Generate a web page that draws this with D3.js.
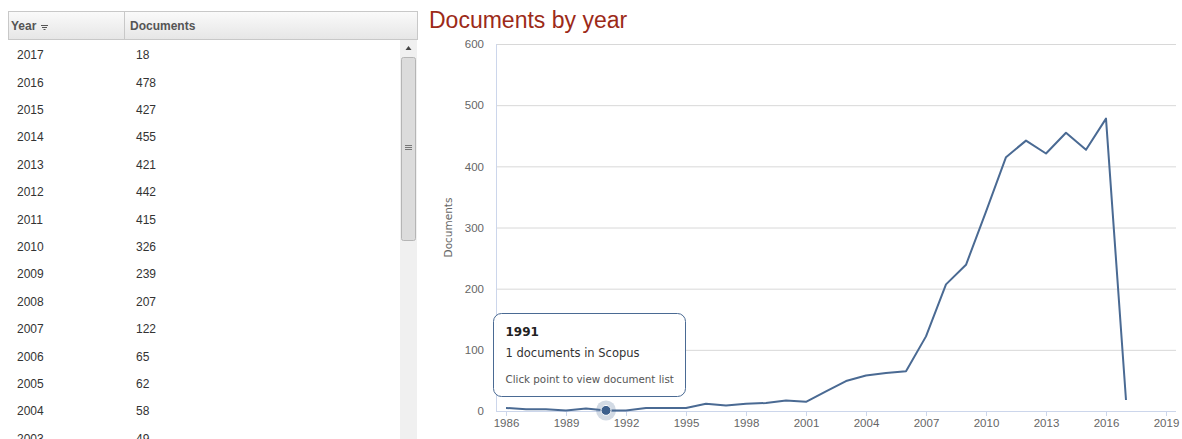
<!DOCTYPE html>
<html>
<head>
<meta charset="utf-8">
<script src="https://cdnjs.cloudflare.com/ajax/libs/d3/7.8.5/d3.min.js"></script>
<style>
  body { margin: 0; background: #fff; }
  svg { display: block; }
</style>
</head>
<body>
<div id="chart"></div>
<script>
var years = [1986, 1987, 1988, 1989, 1990, 1991, 1992, 1993, 1994, 1995, 1996, 1997, 1998, 1999, 2000, 2001,
  2002, 2003, 2004, 2005, 2006, 2007, 2008, 2009, 2010, 2011, 2012, 2013, 2014, 2015, 2016, 2017];
var documents = [5, 3, 3, 1, 4, 1, 1, 5, 5, 5, 12, 9, 12, 13, 17, 15,
  32, 49, 58, 62, 65, 122, 207, 239, 326, 415, 442, 421, 455, 427, 478, 18];
var yTicks = [0, 100, 200, 300, 400, 500, 600];
var xTicks = [1986, 1989, 1992, 1995, 1998, 2001, 2004, 2007, 2010, 2013, 2016, 2019];
var tableHeaders = ["Year", "Documents"];
var hoverYear = 1991;

var width = 1182, height = 439;
var lineColour = "#4a6a93";

var svg = d3.select("#chart").append("svg")
  .attr("width", width)
  .attr("height", height);

// ---------- table on the left ----------
var table = svg.append("g").attr("font-family", "Liberation Sans, Arial, sans-serif");

var grad = svg.append("defs").append("linearGradient")
  .attr("id", "hdr").attr("x1", 0).attr("x2", 0).attr("y1", 0).attr("y2", 1);
grad.append("stop").attr("offset", "0%").attr("stop-color", "#fafafa");
grad.append("stop").attr("offset", "100%").attr("stop-color", "#e6e6e6");

table.append("rect")
  .attr("x", 8.5).attr("y", 11.5).attr("width", 409).attr("height", 28)
  .attr("fill", "url(#hdr)").attr("stroke", "#c8c8c8");
table.append("line")
  .attr("x1", 124.5).attr("x2", 124.5).attr("y1", 12).attr("y2", 40)
  .attr("stroke", "#c8c8c8");

table.selectAll("text.hdr")
  .data(tableHeaders)
  .enter().append("text")
  .attr("class", "hdr")
  .attr("x", function (d, i) { return i == 0 ? 11 : 130; })
  .attr("y", 30)
  .attr("font-size", 12)
  .attr("font-weight", "bold")
  .attr("fill", "#555")
  .text(function (d) { return d; });

// little sort icon next to "Year"
table.append("path")
  .attr("d", "M41,25.5 h7 M42,27.5 h5 M43.5,29.5 h2")
  .attr("stroke", "#555").attr("stroke-width", 1.2);

var rowH = 27.4;
// only the rows that fit in the visible part of the scroll box (2017 down to 2003)
var rows = years.map(function (y, i) { return { year: y, value: documents[i] }; })
  .reverse()
  .filter(function (d) { return d.year >= 2003; });

var row = table.selectAll("g.row")
  .data(rows)
  .enter().append("g")
  .attr("class", "row")
  .attr("transform", function (d, i) { return "translate(0," + (55 + i * rowH) + ")"; });

row.append("text")
  .attr("x", 17).attr("dy", "0.35em")
  .attr("font-size", 12).attr("fill", "#333")
  .text(function (d) { return d.year; });
row.append("text")
  .attr("x", 136).attr("dy", "0.35em")
  .attr("font-size", 12).attr("fill", "#333")
  .text(function (d) { return d.value; });

// scrollbar
table.append("rect")
  .attr("x", 400).attr("y", 40).attr("width", 17).attr("height", 399)
  .attr("fill", "#f0f0f0");
table.append("path")
  .attr("d", "M405.5,50 L408.5,46 L411.5,50 Z")
  .attr("fill", "#444");
table.append("rect")
  .attr("x", 401.5).attr("y", 57.5).attr("width", 14).attr("height", 183).attr("rx", 2)
  .attr("fill", "#dcdcdc").attr("stroke", "#b5b5b5");
table.append("path")
  .attr("d", "M405,145.5 h7 M405,147.5 h7 M405,149.5 h7")
  .attr("stroke", "#777").attr("stroke-width", 1);

// ---------- line chart on the right ----------
svg.append("text")
  .attr("x", 429).attr("y", 28)
  .attr("font-family", "Liberation Sans, Arial, sans-serif")
  .attr("font-size", 23)
  .attr("fill", "#9c2a18")
  .text("Documents by year");

var plot = { left: 496, right: 1176, top: 44, bottom: 411 };

var x = d3.scaleLinear().domain([1985.5, 2019.5]).range([plot.left, plot.right]);
var y = d3.scaleLinear().domain([0, 600]).range([plot.bottom, plot.top]);

var chart = svg.append("g")
  .attr("font-family", "DejaVu Sans, Verdana, sans-serif");

chart.append("g")
  .attr("transform", "translate(" + plot.left + ",0)")
  .call(d3.axisLeft(y).tickValues(yTicks).tickSize(-(plot.right - plot.left)).tickPadding(12))
  .call(function (g) { g.select(".domain").remove(); })
  .call(function (g) {
    g.selectAll(".tick line").attr("stroke", "#d8d8d8");
    g.selectAll(".tick line").filter(function (d) { return d == 0; }).remove();
    g.selectAll(".tick text").attr("fill", "#666").attr("font-size", 11.5);
  });

chart.append("line")
  .attr("x1", plot.left + 0.5).attr("x2", plot.left + 0.5)
  .attr("y1", plot.top).attr("y2", plot.bottom)
  .attr("stroke", "#ccd6eb");

chart.append("g")
  .attr("transform", "translate(0," + plot.bottom + ")")
  .call(d3.axisBottom(x).tickValues(xTicks).tickFormat(d3.format("d")).tickSize(5).tickPadding(3))
  .call(function (g) {
    g.select(".domain").attr("stroke", "#ccd6eb").attr("d", "M" + plot.left + ",0.5H" + plot.right);
    g.selectAll(".tick line").attr("stroke", "#ccd6eb");
    g.selectAll(".tick text").attr("fill", "#666").attr("font-size", 11.5);
  });

chart.append("text")
  .attr("transform", "translate(452," + ((plot.top + plot.bottom) / 2) + ") rotate(-90)")
  .attr("text-anchor", "middle")
  .attr("font-size", 10.5)
  .attr("fill", "#666")
  .text("Documents");

var line = d3.line()
  .x(function (d) { return x(d[0]); })
  .y(function (d) { return y(d[1]); });

chart.append("path")
  .datum(years.map(function (yr, i) { return [yr, documents[i]]; }))
  .attr("d", line)
  .attr("fill", "none")
  .attr("stroke", lineColour)
  .attr("stroke-width", 2)
  .attr("stroke-linejoin", "round");

// hovered point + tooltip
var hv = documents[years.indexOf(hoverYear)];
chart.append("circle")
  .attr("cx", x(hoverYear)).attr("cy", y(hv)).attr("r", 10)
  .attr("fill", lineColour).attr("opacity", 0.25);
chart.append("circle")
  .attr("cx", x(hoverYear)).attr("cy", y(hv)).attr("r", 5)
  .attr("fill", "#3c5f8c").attr("stroke", "#fff").attr("stroke-width", 1);

var tip = chart.append("g").attr("transform", "translate(493.5,313.5)");
tip.append("rect")
  .attr("width", 192).attr("height", 83).attr("rx", 8)
  .attr("fill", "#fff").attr("fill-opacity", 0.95)
  .attr("stroke", lineColour).attr("stroke-width", 1);
tip.append("text")
  .attr("x", 12).attr("y", 22)
  .attr("font-size", 12).attr("font-weight", "bold").attr("fill", "#222")
  .text(hoverYear);
tip.append("text")
  .attr("x", 12).attr("y", 43)
  .attr("font-size", 11.5).attr("fill", "#333")
  .text(hv + " documents in Scopus");
tip.append("text")
  .attr("x", 12).attr("y", 69)
  .attr("font-size", 10.3).attr("fill", "#555")
  .text("Click point to view document list");
</script>
</body>
</html>
